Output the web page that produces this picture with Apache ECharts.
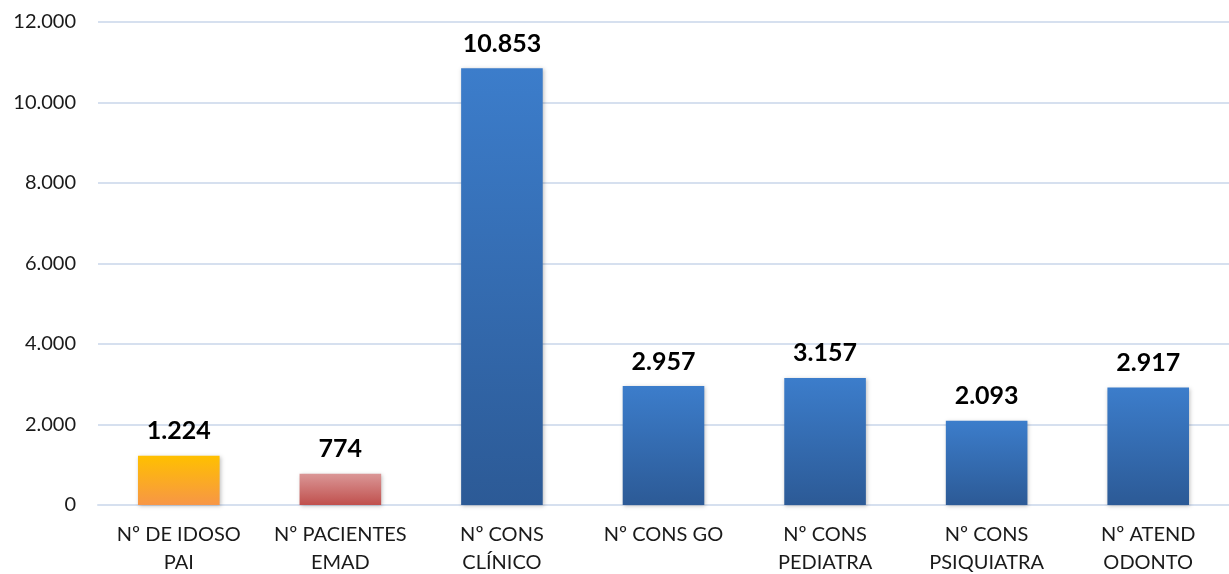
<!DOCTYPE html>
<html>
<head>
<meta charset="utf-8">
<script src="https://cdn.jsdelivr.net/npm/echarts@6/dist/echarts.min.js"></script>
<style>
  html, body { margin: 0; padding: 0; background: #fff; }
  #main { width: 1229px; height: 574px; }
</style>
</head>
<body>
<div id="main"></div>
<script>
// categorias e valores
var categorias = ['Nº DE IDOSO\nPAI', 'Nº PACIENTES\nEMAD', 'Nº CONS\nCLÍNICO', 'Nº CONS GO', 'Nº CONS\nPEDIATRA', 'Nº CONS\nPSIQUIATRA', 'Nº ATEND\nODONTO'];
var valores = [1224, 774, 10853, 2957, 3157, 2093, 2917];

function grad(top, bottom) {
  return new echarts.graphic.LinearGradient(0, 0, 0, 1, [
    { offset: 0, color: top },
    { offset: 1, color: bottom }
  ]);
}

var cores = [
  grad('#FFC000', '#F79646'),
  grad('#DA9696', '#C0504D'),
  grad('#3C7DCB', '#2C5A96'),
  grad('#3C7DCB', '#2C5A96'),
  grad('#3C7DCB', '#2C5A96'),
  grad('#3C7DCB', '#2C5A96'),
  grad('#3C7DCB', '#2C5A96')
];

var fmt = function (v) {
  return String(v).replace(/\B(?=(\d{3})+(?!\d))/g, '.');
};

var chart = echarts.init(document.getElementById('main'), null, { renderer: 'canvas' });

var option = {
  animation: false,
  textStyle: { fontFamily: 'Lato, "Open Sans", sans-serif' },
  grid: { left: 98, right: 0, top: 22, bottom: 69, outerBoundsMode: 'none' },
  xAxis: {
    type: 'category',
    data: categorias,
    axisLine: { lineStyle: { color: '#D6E0EF', width: 2 } },
    axisTick: { show: false },
    axisLabel: {
      color: '#1a1a1a',
      fontSize: 20,
      lineHeight: 28,
      margin: 16,
      interval: 0
    }
  },
  yAxis: {
    type: 'value',
    min: 0,
    max: 12000,
    interval: 2000,
    axisLine: { show: false },
    axisTick: { show: false },
    splitLine: { lineStyle: { color: '#D6E0EF', width: 2 } },
    axisLabel: {
      color: '#1a1a1a',
      fontSize: 20,
      margin: 22,
      formatter: fmt
    }
  },
  series: [{
    type: 'bar',
    barWidth: '50.5%',
    data: valores.map(function (v, i) {
      return { value: v, itemStyle: { color: cores[i] } };
    }),
    itemStyle: {
      shadowColor: 'rgba(0,0,0,0.25)',
      shadowBlur: 4,
      shadowOffsetX: 1,
      shadowOffsetY: 1
    },
    label: {
      show: true,
      position: 'top',
      distance: 12,
      color: '#000',
      fontSize: 25,
      fontWeight: 'bold',
      formatter: function (p) { return fmt(p.value); }
    }
  }]
};

chart.setOption(option);
</script>
</body>
</html>
